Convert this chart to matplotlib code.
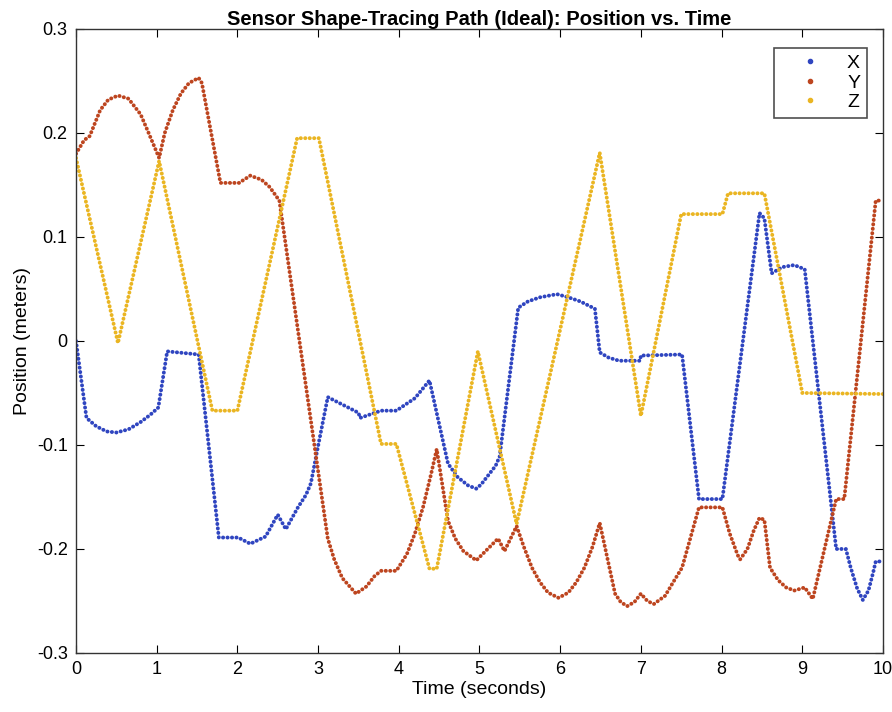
import matplotlib
matplotlib.use("Agg")
import matplotlib.pyplot as plt
from matplotlib.lines import Line2D

plt.rcParams["font.family"] = ["Liberation Sans", "DejaVu Sans"]
plt.rcParams["axes.unicode_minus"] = False

# breakpoints of each trace (time in s, position in m)
t_x = [0.0, 0.13, 0.25, 0.38, 0.5, 0.65, 0.8, 0.92, 1.02, 1.13, 1.52, 1.77,
       2.01, 2.16, 2.35, 2.5, 2.6, 2.75, 2.85, 2.91, 3.0, 3.12, 3.5, 3.52, 3.78,
       3.97, 4.2, 4.38, 4.61, 4.73, 4.86, 4.96, 5.02, 5.1, 5.2, 5.25, 5.48, 5.6,
       5.75, 5.96, 6.1, 6.25, 6.43, 6.49, 6.6, 6.73, 6.99, 7.0, 7.51, 7.72, 8.01,
       8.47, 8.53, 8.62, 8.75, 8.9, 9.03, 9.42, 9.54, 9.6, 9.68, 9.75, 9.82,
       9.88, 9.91, 10.0]
x_pos = [0.0, -0.074, -0.082, -0.087, -0.088, -0.085, -0.078, -0.071, -0.064,
         -0.010, -0.013, -0.189, -0.189, -0.195, -0.188, -0.167, -0.181, -0.160,
         -0.148, -0.137, -0.101, -0.054, -0.069, -0.074, -0.067, -0.067, -0.055,
         -0.038, -0.118, -0.131, -0.139, -0.142, -0.138, -0.130, -0.120, -0.111,
         0.032, 0.038, 0.042, 0.045, 0.042, 0.038, 0.031, -0.011, -0.016, -0.019,
         -0.019, -0.014, -0.013, -0.152, -0.152, 0.123, 0.118, 0.065, 0.071,
         0.073, 0.069, -0.200, -0.200, -0.218, -0.238, -0.249, -0.240, -0.222,
         -0.212, -0.212]

t_y = [0.0, 0.1, 0.17, 0.3, 0.4, 0.52, 0.65, 0.8, 0.9, 1.03, 1.1, 1.2, 1.3,
       1.4, 1.52, 1.56, 1.79, 2.02, 2.16, 2.3, 2.4, 2.52, 3.12, 3.2, 3.3, 3.47,
       3.6, 3.7, 3.78, 3.97, 4.1, 4.2, 4.3, 4.4, 4.47, 4.61, 4.7, 4.8, 4.96,
       5.23, 5.31, 5.46, 5.55, 5.65, 5.75, 5.85, 5.98, 6.1, 6.2, 6.3, 6.4, 6.49,
       6.68, 6.75, 6.83, 6.92, 7.0, 7.08, 7.16, 7.3, 7.4, 7.51, 7.72, 8.01, 8.1,
       8.2, 8.23, 8.32, 8.4, 8.47, 8.53, 8.6, 8.7, 8.8, 8.9, 9.03, 9.13, 9.42,
       9.52, 9.91, 10.0]
y_pos = [0.180, 0.193, 0.197, 0.222, 0.232, 0.236, 0.233, 0.218, 0.200, 0.176,
         0.200, 0.222, 0.238, 0.248, 0.253, 0.248, 0.152, 0.152, 0.159, 0.155,
         0.148, 0.135, -0.190, -0.210, -0.228, -0.243, -0.236, -0.226, -0.221,
         -0.221, -0.205, -0.185, -0.160, -0.128, -0.104, -0.173, -0.190, -0.202,
         -0.211, -0.190, -0.202, -0.178, -0.198, -0.218, -0.232, -0.242, -0.247,
         -0.242, -0.232, -0.218, -0.198, -0.175, -0.243, -0.251, -0.255, -0.251,
         -0.243, -0.250, -0.253, -0.245, -0.232, -0.218, -0.160, -0.160, -0.185,
         -0.206, -0.210, -0.200, -0.182, -0.170, -0.172, -0.218, -0.230, -0.237,
         -0.240, -0.237, -0.248, -0.152, -0.152, 0.135, 0.135]

t_z = [0.0, 0.52, 1.03, 1.69, 2.0, 2.74, 3.01, 3.78, 3.97, 4.38, 4.47, 4.98,
       5.46, 6.49, 7.0, 7.5, 8.01, 8.08, 8.53, 9.0, 10.0]
z_pos = [0.176, -0.002, 0.173, -0.067, -0.067, 0.195, 0.195, -0.099, -0.099,
         -0.219, -0.219, -0.010, -0.176, 0.181, -0.072, 0.122, 0.122, 0.142,
         0.142, -0.050, -0.051]

labels = ["X", "Y", "Z"]
colors = ["#2f45c0", "#bd451f", "#eab522"]

fig = plt.figure(figsize=(8.92, 7.12), dpi=100)
ax = fig.add_axes([0.0852, 0.0829, 0.9047, 0.8764])

# MATLAB-like '.' markers: tight round dots
dots = dict(linestyle=(0, (0.05, 1.1)), linewidth=2.8, dash_capstyle="round")
for t, v, c in zip([t_x, t_y, t_z], [x_pos, y_pos, z_pos], colors):
    ax.plot(t, v, color=c, **dots)

ax.set_xlim(0, 10)
ax.set_ylim(-0.3, 0.3)
ax.set_xticks(range(0, 11))
ax.set_yticks([-0.3, -0.2, -0.1, 0, 0.1, 0.2, 0.3])
ax.set_yticklabels(["-0.3", "-0.2", "-0.1", "0", "0.1", "0.2", "0.3"])
ax.tick_params(direction="in", top=True, right=True, length=6, width=0.8,
               labelsize=13, pad=6)
for s in ax.spines.values():
    s.set_linewidth(1.0)
    s.set_color("#333333")

ax.set_title("Sensor Shape-Tracing Path (Ideal): Position vs. Time",
             fontsize=14.5, fontweight="bold", pad=3)
ax.set_xlabel("Time (seconds)", fontsize=14, labelpad=2)
ax.set_ylabel("Position (meters)", fontsize=14, labelpad=4)

handles = [Line2D([], [], color=c, marker="o", markersize=3, linestyle="none")
           for c in colors]
leg = ax.legend(handles, labels, loc="upper right", bbox_to_anchor=(0.980, 0.970),
                borderaxespad=0, fontsize=14, frameon=True, fancybox=False,
                handlelength=3.0, handletextpad=0.4, borderpad=0.35,
                labelspacing=0.1, markerfirst=True)
leg.get_frame().set_edgecolor("#222222")
leg.get_frame().set_linewidth(1.2)

fig.savefig("out.png", dpi=100)
